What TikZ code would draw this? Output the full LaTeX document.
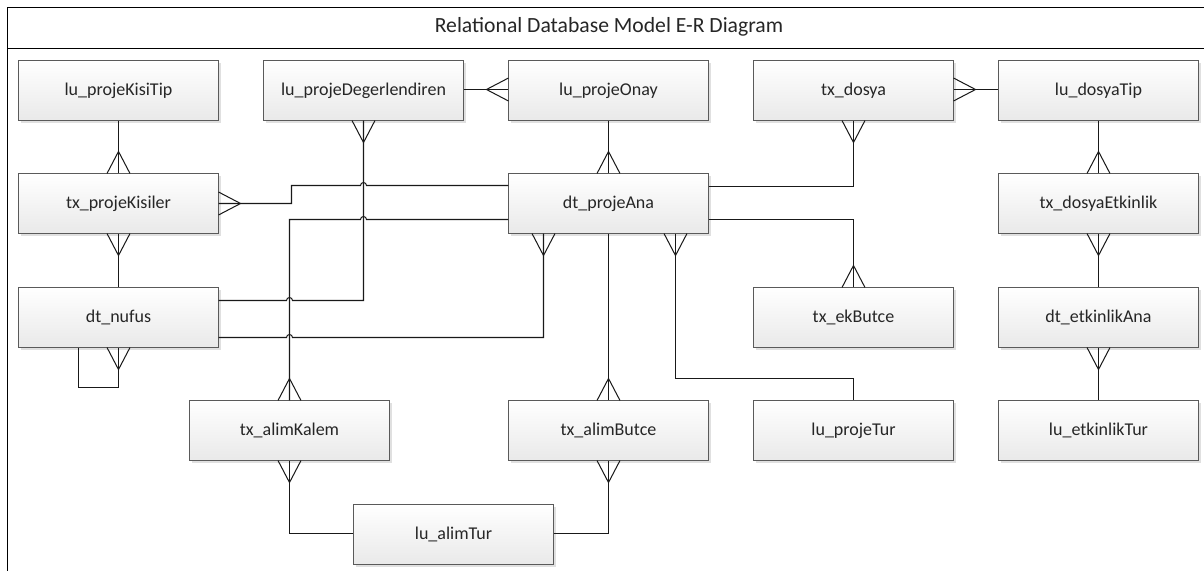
\documentclass[tikz,border=0pt]{standalone}
\usepackage{fontspec}
\setmainfont{Carlito}
\usetikzlibrary{calc,shadows}
\definecolor{kenar}{HTML}{5A5A5A}
\definecolor{taban}{HTML}{E9E9E9}
\tikzset{
	tablo/.style={draw=kenar, line width=0.7pt, top color=white, bottom color=taban, minimum width=5cm, minimum height=1.5cm, inner sep=0, outer sep=0, font=\fontsize{12.8}{15}\selectfont, text=black!85, text height=9.5pt, text depth=2.5pt,
		drop shadow={shadow xshift=2pt, shadow yshift=-2pt, fill=black, opacity=0.12}},
	iliski/.style={line width=0.72pt, black!90},
}
% crow's foot: tip point, direction
\newcommand{\ayak}[2]{\draw[iliski, shift={#1}, rotate=#2] (0,11.5) -- (22,0) -- (0,-11.5);}
\begin{document}
\begin{tikzpicture}[x=0.025cm, y=-0.025cm]
	\useasboundingbox (0,0) rectangle (1204,571);
	\fill[white] (0,0) rectangle (1204,571);
	\draw[line width=0.8pt] (7.5,571) -- (7.5,7.5) -- (1204,7.5);
	\draw[line width=0.8pt] (7.5,48.5) -- (1204,48.5);
	\node[font=\fontsize{15.4}{18}\selectfont, text=black!85, text height=11pt, text depth=2.6pt] (baslik) at (609,27) {Relational Database Model E-R Diagram};

	\node[tablo] (lu_projeKisiTip) at (118.5,90.5) {lu\_projeKisiTip};
	\node[tablo] (lu_projeDegerlendiren) at (363.5,90.5) {lu\_projeDegerlendiren};
	\node[tablo] (lu_projeOnay) at (608.5,90.5) {lu\_projeOnay};
	\node[tablo] (tx_dosya) at (853.5,90.5) {tx\_dosya};
	\node[tablo] (lu_dosyaTip) at (1098.5,90.5) {lu\_dosyaTip};
	\node[tablo] (tx_projeKisiler) at (118.5,203.5) {tx\_projeKisiler};
	\node[tablo] (dt_projeAna) at (608.5,203.5) {dt\_projeAna};
	\node[tablo] (tx_dosyaEtkinlik) at (1098.5,203.5) {tx\_dosyaEtkinlik};
	\node[tablo] (dt_nufus) at (118.5,317.5) {dt\_nufus};
	\node[tablo] (tx_ekButce) at (853.5,317.5) {tx\_ekButce};
	\node[tablo] (dt_etkinlikAna) at (1098.5,317.5) {dt\_etkinlikAna};
	\node[tablo] (tx_alimKalem) at (289.5,430.5) {tx\_alimKalem};
	\node[tablo] (tx_alimButce) at (608.5,430.5) {tx\_alimButce};
	\node[tablo] (lu_projeTur) at (853.5,430.5) {lu\_projeTur};
	\node[tablo] (lu_etkinlikTur) at (1098.5,430.5) {lu\_etkinlikTur};
	\node[tablo] (lu_alimTur) at (453.5,534.5) {lu\_alimTur};

	% straight ones
	\draw[iliski] (lu_projeKisiTip) -- (tx_projeKisiler);
	\draw[iliski] (tx_projeKisiler) -- (dt_nufus);
	\draw[iliski] ($(lu_projeDegerlendiren.east)+(0,-1)$) -- ($(lu_projeOnay.west)+(0,-1)$);
	\draw[iliski] (lu_projeOnay) -- (dt_projeAna);
	\draw[iliski] (dt_projeAna) -- (tx_alimButce);
	\draw[iliski] ($(tx_dosya.east)+(0,-1)$) -- ($(lu_dosyaTip.west)+(0,-1)$);
	\draw[iliski] (lu_dosyaTip) -- (tx_dosyaEtkinlik);
	\draw[iliski] (tx_dosyaEtkinlik) -- (dt_etkinlikAna);
	\draw[iliski] (dt_etkinlikAna) -- (lu_etkinlikTur);
	% with corners
	\draw[iliski] ($(dt_nufus.south)+(-40,0)$) -- (78.5,387.5) -- (118.5,387.5) -- (dt_nufus.south);
	\draw[iliski] (tx_projeKisiler.east) -- (291.5,203.5) -- (291.5,185.5) -- (360.5,185.5) arc[start angle=180, end angle=360, radius=3] -- ($(dt_projeAna.west)+(0,-18)$);
	\draw[iliski] (tx_alimKalem.north) -- (289.5,219.5) -- (360.5,219.5) arc[start angle=180, end angle=360, radius=3] -- ($(dt_projeAna.west)+(0,16)$);
	\draw[iliski] ($(dt_nufus.east)+(0,-17)$) -- (286.5,300.5) arc[start angle=180, end angle=360, radius=3] -- (363.5,300.5) -- (lu_projeDegerlendiren.south);
	\draw[iliski] ($(dt_nufus.east)+(0,20)$) -- (286.5,337.5) arc[start angle=180, end angle=360, radius=3] -- (543.5,337.5) -- ($(dt_projeAna.south)+(-65,0)$);
	\draw[iliski] ($(dt_projeAna.east)+(0,-17)$) -- (853.5,186.5) -- (tx_dosya.south);
	\draw[iliski] ($(dt_projeAna.east)+(0,16)$) -- (853.5,219.5) -- (tx_ekButce.north);
	\draw[iliski] ($(dt_projeAna.south)+(67,0)$) -- (675.5,378.5) -- (853.5,378.5) -- (lu_projeTur.north);
	\draw[iliski] (tx_alimKalem.south) -- (289.5,533.5) -- ($(lu_alimTur.west)+(0,-1)$);
	\draw[iliski] ($(lu_alimTur.east)+(0,-1)$) -- (608.5,533.5) -- (tx_alimButce.south);

	% crow's feet
	\ayak{(tx_projeKisiler.north)}{90}
	\ayak{(tx_projeKisiler.south)}{270}
	\ayak{(tx_projeKisiler.east)}{0}
	\ayak{(dt_nufus.south)}{270}
	\ayak{(lu_projeDegerlendiren.south)}{270}
	\ayak{($(lu_projeOnay.west)+(0,-1)$)}{180}
	\ayak{(dt_projeAna.north)}{90}
	\ayak{($(dt_projeAna.south)+(-65,0)$)}{270}
	\ayak{($(dt_projeAna.south)+(67,0)$)}{270}
	\ayak{(tx_dosya.south)}{270}
	\ayak{($(tx_dosya.east)+(0,-1)$)}{0}
	\ayak{(tx_ekButce.north)}{90}
	\ayak{(tx_dosyaEtkinlik.north)}{90}
	\ayak{(tx_dosyaEtkinlik.south)}{270}
	\ayak{(dt_etkinlikAna.south)}{270}
	\ayak{(tx_alimKalem.north)}{90}
	\ayak{(tx_alimKalem.south)}{270}
	\ayak{(tx_alimButce.north)}{90}
	\ayak{(tx_alimButce.south)}{270}
\end{tikzpicture}
\end{document}
